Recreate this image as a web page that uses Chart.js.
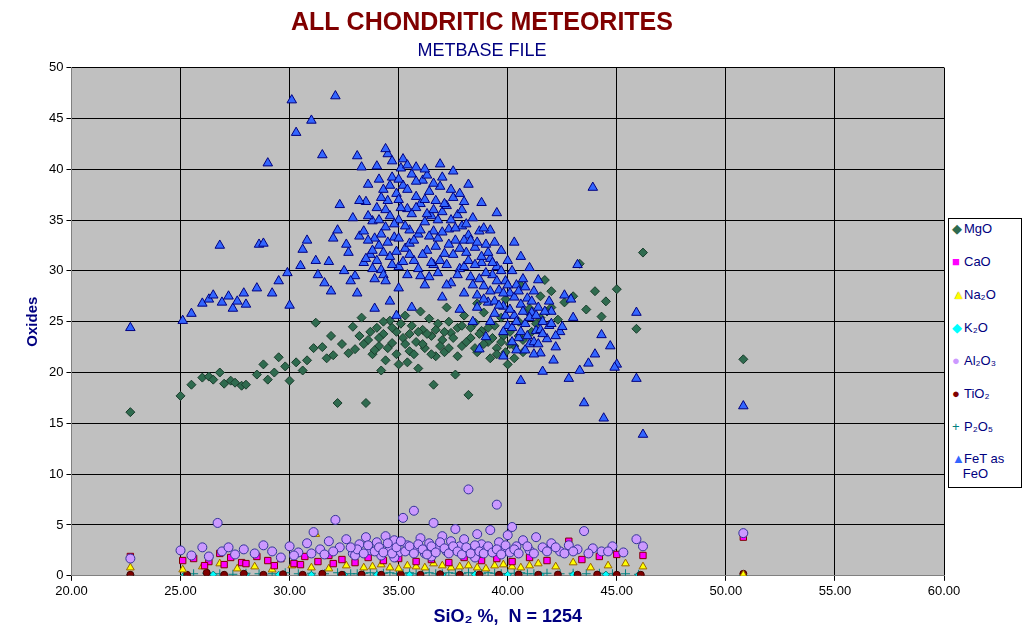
<!DOCTYPE html>
<html>
<head>
<meta charset="utf-8">
<script src="https://cdn.jsdelivr.net/npm/chart.js@4.4.0/dist/chart.umd.min.js"></script>
<style>
  body { margin: 0; background: #fff; }
  #wrap { position: relative; width: 1026px; height: 638px; }
  #legend { position: absolute; left: 948px; top: 218px; width: 72px; height: 268px; border: 1px solid #000; background: #fff;
            font: 13px Arial, "Liberation Sans", sans-serif; color: #000080; }
  #legend div { position: absolute; left: 3px; }
  #legend span.m { display: inline-block; width: 11px; margin-right: 1px; font-size: 13px; }
</style>
</head>
<body>
<div id="wrap">
<canvas id="chart" width="1026" height="638"></canvas>
<div id="legend">
  <div style="top:2px"><span class="m" style="color:#2f6b4f">◆</span>MgO</div>
  <div style="top:35px"><span class="m" style="color:#ff00ff">■</span>CaO</div>
  <div style="top:68px"><span class="m" style="color:#ffff00;text-shadow:0 0 1px #996600">▲</span>Na₂O</div>
  <div style="top:101px"><span class="m" style="color:#00ffff">◆</span>K₂O</div>
  <div style="top:134px"><span class="m" style="color:#cc99ff">●</span>Al₂O₃</div>
  <div style="top:167px"><span class="m" style="color:#800000">●</span>TiO₂</div>
  <div style="top:200px"><span class="m" style="color:#008080">+</span>P₂O₅</div>
  <div style="top:232px"><span class="m" style="color:#3366ff">▲</span>FeT as<br>&nbsp;&nbsp;&nbsp;FeO</div>
</div>
</div>
<script>
// values: [SiO2, oxide]
const feoPoints = [
  [22.7,24.4],[25.1,25.1],[25.5,25.8],[26.0,26.8],[26.3,27.2],[26.5,27.6],[26.8,32.5],[26.9,26.9],[27.2,27.5],[27.4,26.3],
  [27.6,27.0],[27.9,27.8],[28.0,26.7],[28.5,28.3],[28.6,32.6],[28.8,32.7],[29.0,40.6],[29.2,27.8],[29.5,29.0],[29.9,29.8],
  [30.0,26.6],[30.1,46.8],[30.3,43.6],[30.5,30.5],[30.8,33.0],[31.0,44.8],[31.2,31.0],[31.5,41.4],[31.6,28.8],[31.9,28.0],
  [32.1,47.2],[32.0,33.2],[32.3,36.5],[32.5,30.0],[32.7,31.8],[32.9,35.2],[33.1,41.3],[33.3,40.2],[33.5,36.8],[31.3,29.6],
  [31.8,30.9],[32.2,34.0],[32.6,32.6],[33.0,29.5],[33.2,33.4],[33.4,30.8],[33.6,38.5],[33.7,31.6],[33.8,34.9],[33.9,29.2],
  [34.0,40.3],[34.0,36.2],[34.1,32.5],[34.2,30.1],[34.3,38.0],[34.4,34.3],[34.5,41.5],[34.5,36.9],[34.6,31.4],[34.7,39.2],
  [34.8,33.3],[34.9,37.6],[35.0,35.0],[35.0,30.4],[35.1,40.1],[35.2,38.4],[35.3,32.2],[35.4,36.1],[35.5,34.0],[35.6,39.5],
  [35.7,31.0],[35.8,37.3],[35.9,33.6],[36.0,36.6],[36.0,29.5],[36.1,38.9],[36.2,34.8],[36.3,32.0],[36.4,37.8],[36.5,35.4],
  [36.6,30.6],[36.7,36.9],[36.8,33.2],[36.9,38.3],[37.0,35.8],[37.1,31.7],[37.2,36.4],[37.3,34.1],[37.4,28.8],[37.5,37.2],
  [37.6,33.0],[37.7,35.5],[37.8,30.2],[37.9,34.4],[38.0,36.8],[38.1,31.8],[38.2,33.5],[38.3,29.4],[38.4,35.2],[38.5,32.3],
  [38.6,27.6],[38.7,33.9],[38.8,30.8],[38.9,28.5],[39.0,32.6],[39.1,26.9],[39.2,31.2],[39.3,29.6],[39.4,25.8],[39.5,30.4],
  [39.6,28.1],[39.7,32.0],[39.8,26.5],[39.9,29.0],[40.0,24.6],[40.1,27.8],[40.2,30.0],[40.3,25.6],[40.4,28.6],[40.5,23.4],
  [40.6,26.7],[40.7,29.2],[40.8,24.8],[40.9,27.3],[41.0,22.8],[41.1,25.9],[41.2,28.0],[41.3,24.1],[41.4,26.4],[41.5,21.9],
  [41.6,25.0],[41.8,23.3],[42.0,26.0],[42.2,22.5],[42.4,24.0],[42.6,27.6],[34.4,42.0],[34.7,40.8],[35.2,41.0],[34.1,39.0],
  [33.6,35.4],[33.4,33.9],[33.2,36.9],[35.8,40.2],[36.3,39.4],[36.9,40.5],[37.5,39.8],[38.2,38.5],[38.8,36.7],[39.5,35.7],
  [40.3,32.8],[40.6,31.4],[41.0,30.3],[41.4,29.1],[39.2,34.0],[38.0,33.0],[36.6,33.9],[35.5,32.7],[34.3,29.6],[35.0,28.3],
  [36.2,28.6],[37.0,27.4],[37.8,26.2],[38.4,25.0],[39.0,23.5],[35.6,26.4],[34.6,27.0],[36.8,29.8],[33.1,27.8],[32.8,29.0],
  [43.9,38.2],[43.2,30.6],[44.3,23.7],[44.4,15.5],[43.5,17.0],[45.0,20.8],[45.9,19.4],[45.9,25.9],[46.2,13.9],[50.8,16.7],
  [42.8,19.4],[43.3,20.2],[44.0,21.8],[44.7,22.6],[42.5,24.5],[41.6,20.1],[40.6,19.2],[39.8,21.6],[38.7,22.3],[43.0,25.4],
  [42.1,21.2],[41.2,21.8],[40.4,22.2],[43.7,20.9],[44.9,20.5],[42.9,27.2],[41.9,27.0],[34.9,25.6],[33.9,26.3],[30.6,32.1],
  // dense core
  [33.8,32.0],[33.9,33.2],[34.0,31.0],[34.1,35.0],[34.2,33.6],[34.3,31.8],[34.4,36.0],[34.5,32.8],[34.6,35.4],[34.7,30.6],
  [34.8,34.6],[34.9,31.9],[35.0,37.0],[35.0,33.2],[35.1,36.2],[35.2,30.9],[35.3,34.4],[35.4,38.0],[35.5,31.6],[35.6,35.6],
  [35.7,33.0],[35.8,36.2],[35.9,30.2],[36.0,34.0],[36.1,31.6],[36.2,37.0],[36.3,35.6],[36.4,33.4],[36.5,30.8],[36.6,36.0],
  [36.7,32.4],[36.8,35.0],[36.9,31.0],[37.0,33.8],[37.1,36.6],[37.2,30.6],[37.3,32.6],[37.4,35.0],[37.5,31.6],[37.6,34.2],
  [37.7,29.6],[37.8,32.2],[37.9,36.0],[38.0,30.4],[38.1,34.6],[38.2,31.0],[38.3,33.0],[38.4,28.6],[38.5,30.6],[38.6,32.8],
  [38.7,29.2],[38.8,31.4],[38.9,27.2],[39.0,29.8],[39.1,31.8],[39.2,28.0],[39.3,30.8],[39.4,27.0],[39.5,29.0],[39.6,26.6],
  [39.7,30.0],[39.8,27.8],[39.9,25.6],[40.0,28.6],[40.1,26.2],[40.2,24.4],[40.3,27.4],[40.4,25.0],[40.5,28.0],[40.6,24.0],
  [40.7,26.0],[40.8,28.4],[40.9,23.6],[41.0,25.4],[41.1,27.0],[41.2,23.0],[41.3,25.6],[41.5,24.2],[41.7,26.0],[41.9,24.6],
  [34.2,37.2],[34.6,38.4],[35.0,39.0],[35.4,40.4],[35.8,38.8],[36.2,40.0],[36.6,38.6],[37.0,39.2],[37.4,38.0],[37.8,37.6],
  [33.6,33.0],[33.5,31.2],[33.8,30.2],[34.4,29.0],[35.4,29.6],[36.4,29.4],[37.2,28.6],[38.0,27.8],[38.6,26.4],[39.2,25.0],
  [39.8,24.0],[40.2,23.0],[40.8,22.2],[41.4,22.8],[42.2,23.6],[42.0,24.8],[41.6,23.8],[40.0,31.0],[39.4,32.8],[38.9,34.2]
];
const mgoPoints = [
  [22.7,16.1],[25.0,17.7],[25.5,18.8],[26.0,19.5],[26.3,19.6],[26.5,19.3],[26.8,20.0],[27.0,18.9],[27.3,19.2],[27.5,19.0],
  [27.8,18.7],[28.0,18.8],[28.5,19.8],[28.8,20.8],[29.0,19.3],[29.3,20.0],[29.5,21.5],[29.8,20.6],[30.0,19.2],[30.3,21.0],
  [30.6,20.2],[30.8,21.2],[31.2,24.9],[31.5,22.5],[31.7,21.4],[32.0,21.7],[32.2,17.0],[32.4,22.8],[32.7,21.9],[33.0,22.3],
  [33.2,23.6],[33.5,17.0],[33.6,23.2],[33.8,21.8],[34.0,24.4],[34.1,22.6],[34.3,23.8],[34.4,21.2],[34.6,25.1],[34.7,22.9],
  [34.9,24.0],[35.0,20.8],[35.2,23.4],[35.3,25.6],[35.5,22.1],[35.6,24.6],[35.8,23.0],[35.9,20.4],[36.1,24.2],[36.2,22.4],
  [36.4,25.3],[36.5,23.6],[36.7,21.6],[36.8,24.8],[37.0,23.2],[37.1,22.0],[37.3,25.0],[37.4,23.9],[37.6,19.8],[37.7,24.4],
  [37.9,22.6],[38.0,25.6],[38.2,17.8],[38.3,23.4],[38.5,24.9],[38.6,22.0],[38.8,24.1],[38.9,25.9],[39.1,23.0],[39.2,21.4],
  [39.4,24.6],[39.5,22.4],[39.7,25.4],[39.8,23.6],[40.0,20.8],[40.1,24.0],[40.3,22.6],[40.5,25.0],[40.7,23.2],[40.9,26.0],
  [41.0,26.3],[41.3,24.8],[41.5,27.5],[41.8,26.0],[42.0,28.0],[42.3,25.2],[42.6,26.9],[43.0,27.5],[43.3,30.7],[43.6,26.2],
  [44.0,28.0],[44.3,25.5],[44.5,27.0],[45.0,28.2],[45.9,24.3],[46.2,31.8],[50.8,21.3],[36.6,18.8],[35.4,21.0],[34.2,20.2],
  [33.3,25.4],[32.9,24.5],[31.9,23.6],[31.1,22.4],[36.0,26.0],[37.2,26.4],[38.6,26.8],[39.9,27.2],[40.6,28.6],[41.7,29.1],
  [33.4,22.8],[33.7,24.0],[33.9,22.2],[34.1,23.4],[34.3,25.0],[34.5,22.4],[34.7,24.4],[34.9,21.8],[35.1,24.8],[35.3,22.8],
  [35.5,23.8],[35.7,21.8],[35.9,24.0],[36.1,22.8],[36.3,23.8],[36.5,21.8],[36.7,24.2],[36.9,22.6],[37.1,24.0],[37.3,22.4],
  [37.5,23.4],[37.7,21.6],[37.9,24.6],[38.1,23.0],[38.3,24.4],[38.5,22.4],[38.7,23.8],[38.9,22.8],[39.1,24.4],[39.3,23.4],
  [39.5,21.8],[39.7,23.0],[39.9,22.0],[40.1,22.8],[40.3,21.4],[40.5,23.6],[40.7,22.0],[41.1,24.0],[41.5,25.4],[42.0,26.4]
];
const al2o3Points = [
  [22.7,1.7],[25.0,2.5],[25.5,2.0],[26.0,2.8],[26.3,1.9],[26.7,5.2],[26.9,2.4],[27.2,2.8],[27.5,2.1],[27.9,2.6],
  [28.4,2.2],[28.8,3.0],[29.2,2.4],[29.6,1.8],[30.0,2.9],[30.4,2.3],[30.8,3.2],[31.1,4.3],[31.4,2.6],[31.8,3.4],
  [32.1,5.5],[32.3,2.8],[32.6,3.6],[32.9,2.2],[33.2,3.1],[33.5,3.8],[33.7,2.5],[34.0,3.3],[34.2,2.0],[34.4,3.9],
  [34.6,2.7],[34.8,3.5],[35.0,2.3],[35.2,5.7],[35.4,3.0],[35.7,6.4],[35.8,2.6],[36.0,3.7],[36.2,2.2],[36.4,3.2],
  [36.6,5.2],[36.8,2.8],[37.0,3.9],[37.2,2.4],[37.4,3.4],[37.6,4.6],[37.8,2.9],[38.0,3.6],[38.2,8.5],[38.4,2.5],
  [38.6,4.1],[38.8,3.1],[39.0,2.6],[39.2,4.5],[39.5,7.0],[39.6,3.3],[39.8,2.4],[40.0,4.0],[40.2,4.8],[40.4,2.9],
  [40.7,3.5],[41.0,2.5],[41.3,3.8],[41.6,2.8],[42.0,3.2],[42.4,2.4],[42.8,3.0],[43.2,2.6],[43.5,4.4],[43.9,2.7],
  [44.3,2.4],[44.8,2.9],[45.3,2.3],[45.9,3.6],[46.2,2.9],[50.8,4.2],[33.0,2.0],[34.8,1.8],[36.5,1.9],[38.5,1.8],
  [33.1,2.6],[33.4,2.2],[33.6,3.0],[33.9,2.4],[34.1,2.8],[34.3,2.3],[34.5,3.2],[34.7,2.2],[34.9,2.8],[35.1,3.4],
  [35.3,2.4],[35.5,2.9],[35.7,2.2],[35.9,3.1],[36.1,2.6],[36.3,2.1],[36.5,2.9],[36.7,2.3],[36.9,3.3],[37.1,2.7],
  [37.3,2.2],[37.5,2.9],[37.7,2.4],[37.9,2.1],[38.1,2.8],[38.3,2.2],[38.5,3.0],[38.7,2.4],[38.9,2.2],[39.1,2.9],
  [39.3,2.3],[39.5,2.6],[39.7,2.1],[39.9,3.0],[40.1,2.3],[40.3,2.6],[40.5,2.2],[40.9,2.9],[41.2,2.2],[41.8,2.4],
  [42.2,2.8],[42.6,2.2],[43.0,2.4],[43.7,2.2],[44.6,2.4],[30.2,2.0],[31.0,2.2],[31.6,2.1],[32.0,2.4],[32.8,2.8]
];
const caoPoints = [
  [22.7,1.9],[25.1,1.5],[25.6,1.7],[26.3,1.4],[26.8,2.2],[27.3,1.8],[27.8,1.3],[28.5,1.9],[29.0,1.5],[29.6,1.7],
  [30.2,1.2],[30.7,1.9],[31.3,1.4],[31.8,2.0],[32.4,1.6],[33.0,1.3],[33.6,1.8],[34.3,1.5],[35.0,1.7],[35.8,1.4],
  [36.5,1.6],[37.3,1.3],[38.0,1.8],[38.8,1.5],[39.5,1.7],[40.2,1.4],[41.0,1.8],[41.8,1.5],[42.8,3.4],[43.4,1.6],
  [44.2,1.9],[45.0,2.1],[46.2,2.0],[50.8,3.8],[26.1,1.0],[27.0,1.1],[28.0,1.2],[29.3,1.0],[30.5,1.1],[32.0,1.2]
];
const na2oPoints = [
  [22.7,0.8],[25.1,0.6],[26.0,0.9],[26.8,1.2],[27.6,0.7],[28.4,0.9],[29.2,0.6],[30.1,1.0],[31.0,0.8],[31.2,4.1],
  [31.8,0.7],[32.6,1.0],[33.4,0.8],[34.2,1.1],[35.0,0.7],[35.8,0.9],[36.6,1.2],[37.4,0.8],[38.2,1.0],[39.0,0.7],
  [39.8,1.1],[40.6,0.8],[41.4,1.2],[42.2,0.9],[43.0,1.3],[43.8,0.8],[44.6,1.0],[45.4,1.2],[46.2,0.9],[50.8,0.1],
  [33.8,0.9],[34.6,0.8],[35.4,1.0],[36.2,0.8],[37.0,1.0],[37.8,0.9],[38.6,0.8],[39.4,1.0],[40.2,0.9],[41.0,1.0]
];
const k2oPoints = [
  [22.7,0.1],[25.2,0.1],[26.5,0.12],[28.0,0.1],[29.5,0.11],[31.0,0.1],[32.5,0.12],[34.0,0.1],[35.5,0.11],[37.0,0.1],
  [38.5,0.12],[40.0,0.1],[41.5,0.11],[43.0,0.1],[44.5,0.12],[46.0,0.1]
];
const tio2Points = [
  [22.7,0.1],[25.3,0.1],[26.2,0.3],[27.0,0.1],[27.9,0.2],[28.8,0.1],[29.7,0.15],[30.6,0.1],[31.5,0.2],[32.4,0.1],
  [33.3,0.12],[34.2,0.1],[35.1,0.12],[36.0,0.1],[36.9,0.15],[37.8,0.1],[38.7,0.12],[39.6,0.1],[40.5,0.12],[41.4,0.1],
  [42.3,0.12],[43.2,0.1],[44.1,0.12],[45.0,0.1],[46.1,0.1],[50.8,0.2]
];
const p2o5Points = [
  [25.6,0.2],[26.2,0.25],[26.8,0.2],[27.4,0.15],[28.0,0.25],[28.6,0.2],[29.2,0.2],[29.8,0.3],[30.4,0.2],[31.0,0.25],
  [31.6,0.2],[32.2,0.3],[32.8,0.2],[33.4,0.25],[34.0,0.2],[34.6,0.3],[35.2,0.25],[35.8,0.2],[36.4,0.3],[37.0,0.2],
  [37.6,0.25],[38.2,0.3],[38.8,0.2],[39.4,0.25],[40.0,0.2],[40.6,0.3],[41.2,0.2],[41.8,0.25],[42.4,0.2],[43.0,0.25],
  [43.6,0.2],[44.2,0.25],[44.8,0.2],[45.4,0.2],[46.0,0.15],[50.8,0.0],[33.1,0.2],[33.7,0.3],[34.3,0.25],[34.9,0.2],
  [35.5,0.3],[36.1,0.25],[36.7,0.2],[37.3,0.3],[37.9,0.2],[38.5,0.25],[39.1,0.3],[39.7,0.2],[40.3,0.25],[40.9,0.2]
];
const xTicks = [20, 25, 30, 35, 40, 45, 50, 55, 60];
const yTicks = [0, 5, 10, 15, 20, 25, 30, 35, 40, 45, 50];

function pts(a) { return a.map(p => ({ x: p[0], y: p[1] })); }

const ds = (label, data, style, bg, border, r) => ({
  label: label, data: pts(data), pointStyle: style, backgroundColor: bg,
  borderColor: border, borderWidth: 1, pointRadius: r
});

const bgPlugin = {
  id: 'plotbg',
  beforeDraw(chart) {
    const a = chart.chartArea, c = chart.ctx;
    c.save();
    c.fillStyle = '#c0c0c0';
    c.fillRect(a.left, a.top, a.right - a.left, a.bottom - a.top);
    c.restore();
  }
};

new Chart(document.getElementById('chart'), {
  type: 'scatter',
  data: {
    datasets: [
      ds('FeT as FeO', feoPoints, 'triangle', '#3366ff', '#000080', 5.5),
      ds('MgO', mgoPoints, 'rectRot', '#2f6b4f', '#1a3d2c', 4.5),
      ds('Al2O3', al2o3Points, 'circle', '#cc99ff', '#333399', 4.5),
      ds('CaO', caoPoints, 'rect', '#ff00ff', '#800000', 4.5),
      ds('Na2O', na2oPoints, 'triangle', '#ffff00', '#996600', 4.5),
      ds('TiO2', tio2Points, 'circle', '#800000', '#400000', 3.5),
      ds('K2O', k2oPoints, 'rectRot', '#00ffff', '#008080', 3.5),
      ds('P2O5', p2o5Points, 'cross', '#008080', '#008080', 4.5)
    ]
  },
  options: {
    responsive: false,
    animation: false,
    layout: { padding: { left: 20, right: 82, top: 2, bottom: 6 } },
    plugins: {
      legend: { display: false },
      tooltip: { enabled: false },
      title: { display: true, text: 'ALL CHONDRITIC METEORITES', color: '#800000',
               font: { family: 'Arial', size: 25, weight: 'bold' }, padding: { top: 6, bottom: 0 } },
      subtitle: { display: true, text: 'METBASE FILE', color: '#000080',
                  font: { family: 'Arial', size: 18 }, padding: { top: 2, bottom: 6 } }
    },
    scales: {
      x: {
        min: 20, max: 60,
        afterBuildTicks: s => { s.ticks = xTicks.map(v => ({ value: v })); },
        ticks: { color: '#000', font: { family: 'Arial', size: 13 }, callback: v => Number(v).toFixed(2) },
        grid: { color: '#000', lineWidth: 1, drawTicks: true, tickLength: 5 },
        border: { color: '#808080' },
        title: { display: true, text: 'SiO₂ %,  N = 1254', color: '#000080',
                 font: { family: 'Arial', size: 18, weight: 'bold' }, padding: { top: 4 } }
      },
      y: {
        min: 0, max: 50,
        afterBuildTicks: s => { s.ticks = yTicks.map(v => ({ value: v })); },
        ticks: { color: '#000', font: { family: 'Arial', size: 13 } },
        grid: { color: '#000', lineWidth: 1, tickLength: 5 },
        border: { color: '#808080' },
        title: { display: true, text: 'Oxides', color: '#000080',
                 font: { family: 'Arial', size: 15, weight: 'bold' } }
      }
    }
  },
  plugins: [bgPlugin]
});
</script>
</body>
</html>
